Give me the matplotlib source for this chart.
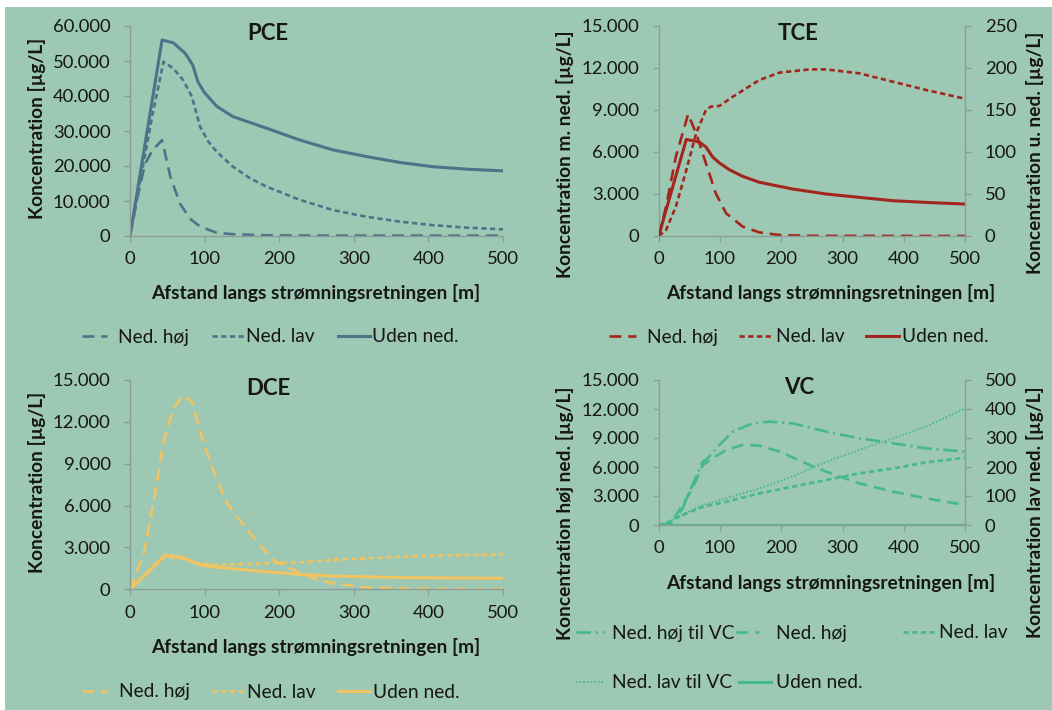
import matplotlib
matplotlib.use("Agg")
import matplotlib.pyplot as plt
from matplotlib.ticker import FuncFormatter, MultipleLocator
from matplotlib.patches import Rectangle

plt.rcParams['font.family'] = ['Lato', 'DejaVu Sans']

W, H = 1052, 710
BG = '#9dc8b4'
TXT = '#161616'
SPINE = '#8a9e96'
FS_TICK = 13.3
FS = 13.8

# ---------------- data ----------------
XLABEL = "Afstand langs strømningsretningen [m]"
LBL_HOJ = "Ned. høj"
LBL_LAV = "Ned. lav"
LBL_UDEN = "Uden ned."
LBL_HOJ_VC = "Ned. høj til VC"
LBL_LAV_VC = "Ned. lav til VC"

# PCE
pce_hoj_x = [0, 10, 20, 30, 43, 54, 67, 80, 94, 116, 138, 183, 250, 500]
pce_hoj_y = [0, 11000, 20500, 24500, 27400, 17000, 9300, 5000, 2700, 950, 500, 200, 120, 100]
pce_lav_x = [0, 10, 20, 30, 45, 58, 71, 83, 94, 105, 116, 138, 161, 183, 228, 272, 317, 362, 406, 451, 500]
pce_lav_y = [0, 11500, 23000, 34500, 49800, 47900, 44600, 39800, 31200, 27000, 24100, 19800, 16500,
             14100, 10300, 7400, 5500, 4100, 3100, 2400, 1900]
pce_uden_x = [0, 43, 58, 74, 84, 91, 99, 116, 138, 183, 228, 272, 317, 362, 406, 451, 500]
pce_uden_y = [0, 56000, 55200, 52200, 48900, 44100, 41200, 37100, 34100, 30800, 27400, 24600,
              22700, 21000, 19800, 19100, 18600]

# TCE
tce_hoj_x = [0, 12, 28, 48, 61, 77, 93, 110, 137, 164, 197, 250, 500]
tce_hoj_y = [0, 2100, 5670, 8700, 7330, 5190, 3050, 1620, 670, 260, 70, 10, 0]
tce_lav_x = [0, 12, 28, 45, 61, 77, 85, 99, 121, 164, 197, 246, 273, 327, 382, 436, 500]
tce_lav_y = [0, 430, 2100, 4710, 7330, 9000, 9240, 9290, 9950, 11140, 11670, 11900, 11900,
             11620, 11020, 10430, 9800]
tce_uden_x = [0, 45, 66, 77, 88, 99, 115, 137, 164, 218, 273, 327, 382, 436, 500]
tce_uden_y = [0, 115, 112, 106, 94, 87, 79, 71, 64, 56, 50, 46, 42, 40, 38]

# DCE
dce_hoj_x = [0, 18, 31, 45, 58, 71, 83, 94, 112, 129, 152, 174, 192, 214, 246, 272, 317, 362, 420, 500]
dce_hoj_y = [0, 2460, 6040, 10570, 12960, 13910, 13440, 11290, 8430, 6280, 4610, 3170, 2100, 1500,
             800, 430, 140, 60, 20, 0]
dce_lav_x = [0, 47, 71, 94, 116, 183, 228, 272, 317, 362, 406, 500]
dce_lav_y = [0, 2340, 2170, 1860, 1740, 1860, 1930, 2100, 2220, 2340, 2410, 2500]
dce_uden_x = [0, 47, 71, 94, 116, 183, 228, 272, 362, 500]
dce_uden_y = [0, 2460, 2270, 1740, 1580, 1260, 1070, 950, 840, 790]

# VC
vc_hojvc_x = [0, 15, 23, 39, 55, 72, 80, 99, 121, 153, 180, 218, 273, 327, 382, 436, 500]
vc_hojvc_y = [0, 50, 340, 1720, 4140, 6550, 6900, 8280, 9660, 10520, 10690, 10520, 9660, 8970,
              8450, 7930, 7590]
vc_hoj_x = [0, 15, 23, 39, 55, 72, 88, 110, 137, 164, 197, 246, 273, 327, 382, 436, 500]
vc_hoj_y = [0, 50, 520, 2070, 3790, 6210, 6900, 7760, 8280, 8210, 7590, 6210, 5520, 4310, 3450,
            2760, 2070]
vc_lav_x = [0, 12, 39, 72, 110, 164, 218, 273, 327, 382, 436, 500]
vc_lav_y = [0, 6, 34, 63, 80, 109, 132, 155, 178, 195, 216, 232]
vc_lavvc_x = [0, 12, 39, 72, 110, 164, 218, 273, 327, 382, 436, 500]
vc_lavvc_y = [0, 7, 36, 69, 92, 126, 167, 218, 259, 299, 339, 402]
vc_uden_x = [0, 500]
vc_uden_y = [0, 0]

# ---------------- styles ----------------
C_PCE = '#4b7488'
C_TCE = '#a3261d'
C_DCE = '#f1c462'
C_VC = '#46b98b'
DASH_LONG = (4.5, 2.6)
DASH_SHORT = (2.0, 1.3)
DASH_DOT = (5.5, 1.8, 0.8, 1.8)
DOT = (0.9, 1.1)
LW = 1.9

fig = plt.figure(figsize=(W / 100, H / 100), dpi=100, facecolor='white')
fig.add_artist(Rectangle((5 / W, 0), 1, 1 - 7 / H, transform=fig.transFigure,
                         facecolor=BG, edgecolor='none', zorder=-10))


def fmt_thousands(v, _):
    return f"{int(round(v)):,}".replace(",", ".")


def px_axes(l, r, t, b):
    return fig.add_axes([l / W, 1 - b / H, (r - l) / W, (b - t) / H])


def style_ax(ax, ymax, ystep):
    ax.set_facecolor('none')
    ax.set_xlim(0, 500)
    ax.set_ylim(0, ymax)
    ax.xaxis.set_major_locator(MultipleLocator(100))
    ax.yaxis.set_major_locator(MultipleLocator(ystep))
    ax.yaxis.set_major_formatter(FuncFormatter(fmt_thousands))
    for s in ['top', 'right']:
        ax.spines[s].set_visible(False)
    for s in ['left', 'bottom']:
        ax.spines[s].set_color(SPINE)
        ax.spines[s].set_linewidth(1.0)
    ax.tick_params(axis='both', direction='out', length=4, width=1, color=SPINE,
                   labelsize=FS_TICK, labelcolor=TXT)
    ax.tick_params(axis='x', pad=7)
    ax.tick_params(axis='y', pad=10)


def style_twin(ax2, ymax, ystep):
    ax2.set_facecolor('none')
    ax2.set_ylim(0, ymax)
    ax2.yaxis.set_major_locator(MultipleLocator(ystep))
    ax2.yaxis.set_major_formatter(FuncFormatter(fmt_thousands))
    for s in ['top', 'left', 'bottom']:
        ax2.spines[s].set_visible(False)
    ax2.spines['right'].set_color(SPINE)
    ax2.spines['right'].set_linewidth(1.0)
    ax2.tick_params(axis='y', direction='out', length=4, width=1, color=SPINE,
                    labelsize=FS_TICK, labelcolor=TXT, pad=10)


def ftext(x, y, s, **kw):
    kw.setdefault('color', TXT)
    fig.text(x / W, 1 - y / H, s, **kw)


def entry(h, label, x0, x1, xt, y):
    fpx = FS * 100 / 72
    fig.legend([h], [label], loc='center left', bbox_to_anchor=(x0 / W, 1 - y / H),
               frameon=False, borderpad=0, borderaxespad=0, fontsize=FS,
               handlelength=(x1 - x0) / fpx, handletextpad=(xt - x1) / fpx,
               labelcolor=TXT)


TITLE_FS = 16

# ---------------- PCE ----------------
ax = px_axes(130, 503, 26, 236)
style_ax(ax, 60000, 10000)
h1, = ax.plot(pce_hoj_x, pce_hoj_y, color=C_PCE, lw=LW, dashes=DASH_LONG)
h2, = ax.plot(pce_lav_x, pce_lav_y, color=C_PCE, lw=LW, dashes=DASH_SHORT)
h3, = ax.plot(pce_uden_x, pce_uden_y, color=C_PCE, lw=LW + 0.3)
ftext(268, 33, "PCE", fontsize=TITLE_FS, fontweight='bold', ha='center', va='center')
ftext(37, 128, "Koncentration [µg/L]", fontsize=FS, fontweight='bold', rotation=90,
      ha='center', va='center')
ftext(316, 293, XLABEL, fontsize=FS, fontweight='bold', ha='center', va='center')
entry(h1, LBL_HOJ, 82, 107, 118, 337)
entry(h2, LBL_LAV, 212, 245, 246, 337)
entry(h3, LBL_UDEN, 338, 370, 372, 337)

# ---------------- TCE ----------------
ax = px_axes(658.7, 965.3, 26, 236)
style_ax(ax, 15000, 3000)
ax2 = ax.twinx()
style_twin(ax2, 250, 50)
h1, = ax.plot(tce_hoj_x, tce_hoj_y, color=C_TCE, lw=LW, dashes=DASH_LONG)
h2, = ax.plot(tce_lav_x, tce_lav_y, color=C_TCE, lw=LW, dashes=DASH_SHORT)
h3, = ax2.plot(tce_uden_x, tce_uden_y, color=C_TCE, lw=LW + 0.3)
ftext(798, 33, "TCE", fontsize=TITLE_FS, fontweight='bold', ha='center', va='center')
ftext(565, 154, "Koncentration m. ned. [µg/L]", fontsize=FS, fontweight='bold', rotation=90,
      ha='center', va='center')
ftext(1035, 153, "Koncentration u. ned. [µg/L]", fontsize=FS, fontweight='bold', rotation=90,
      ha='center', va='center')
ftext(831, 293, XLABEL, fontsize=FS, fontweight='bold', ha='center', va='center')
entry(h1, LBL_HOJ, 609, 636, 647, 337)
entry(h2, LBL_LAV, 739, 773, 776, 337)
entry(h3, LBL_UDEN, 866, 899, 902, 337)

# ---------------- DCE ----------------
ax = px_axes(130, 503, 380, 589.3)
style_ax(ax, 15000, 3000)
h1, = ax.plot(dce_hoj_x, dce_hoj_y, color=C_DCE, lw=LW, dashes=DASH_LONG)
h2, = ax.plot(dce_lav_x, dce_lav_y, color=C_DCE, lw=LW, dashes=DASH_SHORT)
h3, = ax.plot(dce_uden_x, dce_uden_y, color=C_DCE, lw=LW + 0.3)
ftext(268, 388, "DCE", fontsize=TITLE_FS, fontweight='bold', ha='center', va='center')
ftext(37, 482, "Koncentration [µg/L]", fontsize=FS, fontweight='bold', rotation=90,
      ha='center', va='center')
ftext(316, 647, XLABEL, fontsize=FS, fontweight='bold', ha='center', va='center')
entry(h1, LBL_HOJ, 82, 107, 119, 692)
entry(h2, LBL_LAV, 212, 245, 247, 692)
entry(h3, LBL_UDEN, 338, 370, 373, 692)

# ---------------- VC ----------------
ax = px_axes(658.7, 965.3, 380, 525)
style_ax(ax, 15000, 3000)
ax2 = ax.twinx()
style_twin(ax2, 500, 100)
h1, = ax.plot(vc_hojvc_x, vc_hojvc_y, color=C_VC, lw=LW, dashes=DASH_DOT)
h2, = ax.plot(vc_hoj_x, vc_hoj_y, color=C_VC, lw=LW, dashes=DASH_LONG)
h3, = ax2.plot(vc_lav_x, vc_lav_y, color=C_VC, lw=LW, dashes=DASH_SHORT)
h4, = ax2.plot(vc_lavvc_x, vc_lavvc_y, color=C_VC, lw=1.3, dashes=DOT)
h5, = ax.plot(vc_uden_x, vc_uden_y, color=C_VC, lw=LW + 0.3)
ftext(799, 387, "VC", fontsize=TITLE_FS, fontweight='bold', ha='center', va='center')
ftext(565, 513, "Koncentration høj ned. [µg/L]", fontsize=FS, fontweight='bold', rotation=90,
      ha='center', va='center')
ftext(1035, 512, "Koncentration lav ned. [µg/L]", fontsize=FS, fontweight='bold', rotation=90,
      ha='center', va='center')
ftext(831, 583, XLABEL, fontsize=FS, fontweight='bold', ha='center', va='center')
entry(h1, LBL_HOJ_VC, 576, 604, 612, 633)
entry(h2, LBL_HOJ, 736, 759, 776, 633)
entry(h3, LBL_LAV, 903, 936, 939, 633)
entry(h4, LBL_LAV_VC, 576, 604, 612, 683)
entry(h5, LBL_UDEN, 739, 771, 776, 683)

fig.savefig("out.png", dpi=100, facecolor=fig.get_facecolor())
